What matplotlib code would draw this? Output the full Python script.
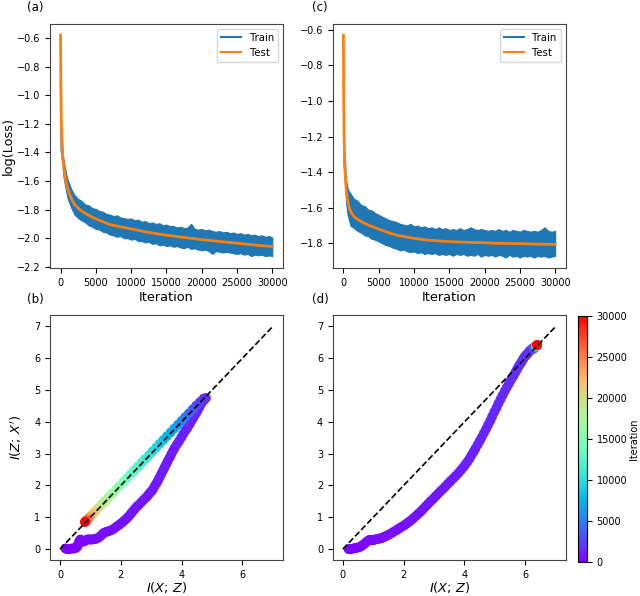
import numpy as np
import matplotlib.pyplot as plt
from matplotlib.lines import Line2D

# ---- loss curves ----
test_iter = [0, 50, 100, 200, 300, 400, 600, 800, 1000, 1500, 2000, 2500, 3000, 4000, 5000,
             6000, 7000, 8000, 10000, 12000, 14000, 16000, 18000, 20000, 22000, 24000,
             26000, 28000, 30000]
test_a = [-0.58, -0.95, -1.17, -1.33, -1.42, -1.48, -1.55, -1.61, -1.65, -1.72, -1.765, -1.79,
          -1.81, -1.84, -1.865, -1.885, -1.905, -1.915, -1.935, -1.955, -1.972, -1.985,
          -1.998, -2.01, -2.02, -2.03, -2.04, -2.05, -2.058]
test_c = [-0.63, -1.0, -1.2, -1.36, -1.44, -1.50, -1.56, -1.595, -1.62, -1.65, -1.665, -1.677,
          -1.688, -1.705, -1.72, -1.735, -1.748, -1.758, -1.772, -1.782, -1.788, -1.792,
          -1.795, -1.797, -1.80, -1.801, -1.803, -1.805, -1.806]

train_iter = [0, 100, 200, 300, 400, 600, 800, 1000,
              1500, 2000, 2500, 3000, 3500, 4000, 4500, 5000, 5500, 6000, 6500, 7000, 7500,
              8000, 8500, 9000, 9500, 10000, 10500, 11000, 11500, 12000, 12500, 13000, 13500,
              14000, 14500, 15000, 15500, 16000, 16500, 17000, 17500, 18000, 18500, 19000,
              19500, 20000, 20500, 21000, 21500, 22000, 22500, 23000, 23500, 24000, 24500,
              25000, 25500, 26000, 26500, 27000, 27500, 28000, 28500, 29000, 29500, 30000]
train_hi_a = [-1.12, -1.25, -1.30, -1.40, -1.44, -1.50, -1.55, -1.59,
              -1.655, -1.70, -1.725, -1.74, -1.765, -1.77, -1.79, -1.795, -1.81, -1.815,
              -1.83, -1.835, -1.845, -1.84, -1.855, -1.86, -1.865, -1.862, -1.875, -1.87,
              -1.885, -1.88, -1.895, -1.89, -1.90, -1.895, -1.91, -1.905, -1.915, -1.915,
              -1.925, -1.92, -1.93, -1.925, -1.90, -1.935, -1.94, -1.935, -1.945, -1.94,
              -1.95, -1.955, -1.95, -1.96, -1.955, -1.965, -1.96, -1.97, -1.965, -1.975,
              -1.97, -1.98, -1.975, -1.985, -1.98, -1.99, -1.985, -1.995]
train_lo_a = [-1.38, -1.42, -1.45, -1.50, -1.56, -1.62, -1.67, -1.72,
              -1.785, -1.835, -1.86, -1.875, -1.89, -1.91, -1.92, -1.935, -1.94, -1.955,
              -1.96, -1.975, -1.98, -1.99, -1.985, -2.0, -2.0, -2.01, -2.005, -2.02, -2.02,
              -2.03, -2.025, -2.04, -2.035, -2.05, -2.045, -2.055, -2.05, -2.06, -2.055,
              -2.065, -2.07, -2.06, -2.075, -2.07, -2.08, -2.085, -2.08, -2.09, -2.11,
              -2.09, -2.095, -2.10, -2.095, -2.10, -2.105, -2.11, -2.105, -2.115, -2.11,
              -2.125, -2.115, -2.12, -2.115, -2.125, -2.12, -2.125]
train_hi_c = [-1.15, -1.28, -1.33, -1.40, -1.45, -1.49, -1.51, -1.52,
              -1.55, -1.56, -1.585, -1.59, -1.61, -1.615, -1.63, -1.64, -1.65, -1.66,
              -1.67, -1.675, -1.68, -1.69, -1.695, -1.70, -1.69, -1.705, -1.70, -1.71,
              -1.705, -1.715, -1.71, -1.72, -1.71, -1.72, -1.715, -1.725, -1.72, -1.725,
              -1.715, -1.725, -1.72, -1.71, -1.72, -1.725, -1.72, -1.725, -1.73, -1.725,
              -1.73, -1.72, -1.73, -1.725, -1.735, -1.725, -1.73, -1.735, -1.725, -1.73,
              -1.735, -1.73, -1.735, -1.725, -1.71, -1.73, -1.735, -1.73]
train_lo_c = [-1.35, -1.40, -1.45, -1.52, -1.58, -1.64, -1.67, -1.70,
              -1.715, -1.73, -1.74, -1.755, -1.76, -1.775, -1.78, -1.79, -1.80, -1.81,
              -1.815, -1.825, -1.83, -1.84, -1.835, -1.845, -1.85, -1.845, -1.855, -1.85,
              -1.86, -1.855, -1.86, -1.855, -1.865, -1.86, -1.865, -1.86, -1.87, -1.86,
              -1.865, -1.86, -1.87, -1.865, -1.87, -1.86, -1.875, -1.865, -1.87, -1.865,
              -1.875, -1.865, -1.87, -1.88, -1.865, -1.875, -1.87, -1.88, -1.87, -1.875,
              -1.87, -1.88, -1.87, -1.875, -1.87, -1.88, -1.875, -1.87]

# ---- information plane trajectories ----
b_x_up = [0.18, 0.24, 0.3, 0.35, 0.4, 0.45, 0.5, 0.54, 0.57, 0.6,
          0.63, 0.67, 0.7, 0.72, 0.75, 0.78, 0.82, 0.86, 0.9, 0.95,
          1.0, 1.05, 1.1, 1.15, 1.2, 1.26, 1.32, 1.38, 1.43, 1.49,
          1.55, 1.62, 1.7, 1.77, 1.84, 1.91, 1.98, 2.05, 2.12, 2.19,
          2.25, 2.32, 2.38, 2.45, 2.52, 2.6, 2.68, 2.76, 2.85, 2.9,
          2.96, 3.02, 3.07, 3.12, 3.18, 3.23, 3.28, 3.33, 3.39, 3.44,
          3.5, 3.55, 3.61, 3.66, 3.72, 3.78, 3.85, 3.92, 3.99, 4.05,
          4.12, 4.19, 4.26, 4.31, 4.37, 4.42, 4.48, 4.53, 4.59, 4.64,
          4.7, 4.75, 4.8]
b_y_up = [0.02, 0.0, 0.0, 0.01, 0.02, 0.02, 0.03, 0.05, 0.08, 0.16,
          0.24, 0.3, 0.28, 0.26, 0.24, 0.24, 0.26, 0.28, 0.3, 0.31,
          0.3, 0.3, 0.31, 0.32, 0.33, 0.36, 0.4, 0.45, 0.5, 0.53,
          0.55, 0.57, 0.6, 0.64, 0.69, 0.74, 0.79, 0.84, 0.9, 0.96,
          1.02, 1.1, 1.17, 1.25, 1.33, 1.4, 1.48, 1.56, 1.64, 1.7,
          1.77, 1.83, 1.9, 1.99, 2.08, 2.17, 2.26, 2.36, 2.47, 2.57,
          2.68, 2.78, 2.88, 2.98, 3.09, 3.19, 3.3, 3.4, 3.51, 3.61,
          3.71, 3.81, 3.92, 4.01, 4.1, 4.19, 4.28, 4.37, 4.47, 4.56,
          4.65, 4.7, 4.75]
b_it_up = [0, 18, 36, 54, 72, 90, 108, 126, 144, 162,
           180, 198, 216, 234, 252, 270, 288, 306, 324, 342,
           360, 378, 396, 414, 432, 450, 468, 486, 504, 522,
           540, 558, 576, 594, 612, 630, 648, 666, 684, 702,
           720, 738, 756, 774, 792, 810, 828, 846, 864, 882,
           900, 918, 936, 954, 972, 990, 1008, 1026, 1044, 1062,
           1080, 1098, 1116, 1134, 1152, 1170, 1188, 1206, 1224, 1242,
           1260, 1278, 1296, 1314, 1332, 1350, 1368, 1386, 1404, 1422,
           1440, 1458, 1476]
b_x_back = [4.72, 4.6, 4.48, 4.36, 4.24, 4.12, 4.0, 3.88, 3.76, 3.64, 3.52, 3.4, 3.28, 3.16,
            3.04, 2.92, 2.8, 2.68, 2.56, 2.44, 2.32, 2.2, 2.08, 1.96, 1.84, 1.72, 1.6, 1.48,
            1.36, 1.25, 1.15, 1.06, 0.98, 0.92, 0.87, 0.84, 0.82]
b_y_back = [4.73, 4.62, 4.51, 4.39, 4.27, 4.15, 4.03, 3.91, 3.79, 3.67, 3.55, 3.43, 3.31,
            3.19, 3.07, 2.95, 2.83, 2.71, 2.59, 2.47, 2.35, 2.23, 2.11, 1.99, 1.87, 1.75,
            1.63, 1.51, 1.39, 1.28, 1.18, 1.09, 1.01, 0.95, 0.9, 0.87, 0.85]
b_it_back = [1600, 2200, 2800, 3400, 4000, 4600, 5200, 5800, 6400, 7000, 7600, 8200, 8800,
             9400, 10000, 10600, 11200, 11800, 12400, 13000, 13600, 14200, 14800, 15400,
             16000, 16600, 17200, 17900, 18700, 19600, 20600, 21800, 23200, 24700, 26300,
             28000, 30000]

d_x_up = [0.19, 0.25, 0.3, 0.35, 0.4, 0.45, 0.5, 0.56, 0.62, 0.67,
          0.73, 0.78, 0.84, 0.88, 0.92, 0.96, 1.0, 1.05, 1.1, 1.15,
          1.2, 1.24, 1.28, 1.33, 1.39, 1.44, 1.5, 1.56, 1.63, 1.7,
          1.77, 1.83, 1.9, 1.97, 2.04, 2.11, 2.18, 2.25, 2.32, 2.4,
          2.48, 2.56, 2.64, 2.72, 2.8, 2.88, 2.97, 3.05, 3.13, 3.21,
          3.3, 3.38, 3.46, 3.54, 3.63, 3.71, 3.8, 3.88, 3.96, 4.03,
          4.1, 4.17, 4.23, 4.3, 4.36, 4.43, 4.5, 4.57, 4.64, 4.71,
          4.78, 4.85, 4.91, 4.98, 5.05, 5.11, 5.18, 5.25, 5.32, 5.39,
          5.46, 5.53, 5.6, 5.66, 5.71, 5.76, 5.81, 5.86, 5.9, 5.94,
          5.98, 6.02, 6.06, 6.1, 6.14, 6.18, 6.22, 6.26, 6.3]
d_y_up = [0.0, 0.0, 0.01, 0.02, 0.03, 0.04, 0.05, 0.07, 0.1, 0.14,
          0.18, 0.23, 0.27, 0.29, 0.29, 0.28, 0.28, 0.3, 0.31, 0.32,
          0.33, 0.34, 0.35, 0.37, 0.4, 0.42, 0.45, 0.48, 0.52, 0.56,
          0.6, 0.64, 0.68, 0.72, 0.76, 0.81, 0.86, 0.91, 0.97, 1.04,
          1.11, 1.18, 1.26, 1.34, 1.42, 1.5, 1.58, 1.66, 1.74, 1.82,
          1.9, 1.98, 2.06, 2.14, 2.22, 2.3, 2.39, 2.48, 2.57, 2.66,
          2.75, 2.85, 2.95, 3.06, 3.16, 3.28, 3.4, 3.52, 3.65, 3.78,
          3.91, 4.04, 4.17, 4.31, 4.44, 4.57, 4.7, 4.83, 4.96, 5.08,
          5.2, 5.32, 5.43, 5.53, 5.62, 5.71, 5.79, 5.86, 5.92, 5.99,
          6.05, 6.09, 6.13, 6.18, 6.22, 6.26, 6.29, 6.32, 6.34]
d_it_up = [0, 20, 40, 60, 80, 100, 120, 140, 160, 180,
           200, 220, 240, 260, 280, 300, 320, 340, 360, 380,
           400, 420, 440, 460, 480, 500, 520, 540, 560, 580,
           600, 620, 640, 660, 680, 700, 720, 740, 760, 780,
           800, 820, 840, 860, 880, 900, 920, 940, 960, 980,
           1000, 1020, 1040, 1060, 1080, 1100, 1120, 1140, 1160, 1180,
           1200, 1220, 1240, 1260, 1280, 1300, 1320, 1340, 1360, 1380,
           1400, 1420, 1440, 1460, 1480, 1500, 1520, 1540, 1560, 1580,
           1600, 1620, 1640, 1660, 1680, 1700, 1720, 1740, 1760, 1780,
           1800, 1820, 1840, 1860, 1880, 1900, 1920, 1940, 1960]
d_x_end = [6.27, 6.32, 6.33, 6.35, 6.36, 6.37, 6.38, 6.37, 6.38, 6.39, 6.38, 6.39]
d_y_end = [6.3, 6.33, 6.36, 6.37, 6.38, 6.39, 6.4, 6.41, 6.4, 6.41, 6.41, 6.42]
d_it_end = [3000, 4500, 6000, 8000, 10000, 13000, 16000, 19000, 22000, 25000, 28000, 30000]

diag = [0, 7]

plt.rcParams['font.family'] = 'DejaVu Sans'
tick_fs = 7
label_fs = 9.3

fig = plt.figure(figsize=(6.4, 5.96), dpi=100)
ax_a = fig.add_axes([0.078, 0.550, 0.364, 0.410])
ax_c = fig.add_axes([0.520, 0.550, 0.364, 0.410])
ax_b = fig.add_axes([0.078, 0.060, 0.364, 0.411])
ax_d = fig.add_axes([0.520, 0.060, 0.364, 0.411])
cax = fig.add_axes([0.903, 0.057, 0.014, 0.413])

# loss panels
for ax, hi, lo, test, ylim, yt in [
        (ax_a, train_hi_a, train_lo_a, test_a, (-2.21, -0.50), np.arange(-2.2, -0.55, 0.2)),
        (ax_c, train_hi_c, train_lo_c, test_c, (-1.94, -0.566), np.arange(-1.8, -0.55, 0.2))]:
    ax.fill_between(train_iter, lo, hi, color='#1f77b4', edgecolor='#1f77b4', lw=0.8)
    ax.plot(test_iter, test, color='#ff7f0e', lw=2.0)
    ax.set_xlim(-1500, 31500)
    ax.set_ylim(*ylim)
    ax.set_yticks(yt)
    ax.set_xticks([0, 5000, 10000, 15000, 20000, 25000, 30000])
    ax.tick_params(labelsize=tick_fs)
    ax.set_xlabel('Iteration', fontsize=label_fs, labelpad=2)
    handles = [Line2D([], [], color='#1f77b4', lw=1.5), Line2D([], [], color='#ff7f0e', lw=1.5)]
    ax.legend(handles, ['Train', 'Test'], loc='upper right', fontsize=7.3)
ax_a.set_ylabel('log(Loss)', fontsize=label_fs, labelpad=1)

# information plane panels
sc = None
for ax, xs, ys, its in [
        (ax_b, [b_x_up, b_x_back], [b_y_up, b_y_back], [b_it_up, b_it_back]),
        (ax_d, [d_x_up, d_x_end], [d_y_up, d_y_end], [d_it_up, d_it_end])]:
    sc = ax.scatter(np.concatenate(xs), np.concatenate(ys), c=np.concatenate(its),
                    cmap='rainbow', vmin=0, vmax=30000, s=50, linewidths=0)
    ax.plot(diag, diag, 'k--', lw=1.2)
    ax.set_xlim(-0.33, 7.33)
    ax.set_ylim(-0.35, 7.35)
    ax.set_xticks([0, 2, 4, 6])
    ax.set_yticks(range(8))
    ax.tick_params(labelsize=tick_fs)
    ax.set_xlabel(r'$I(X;\,Z)$', fontsize=label_fs, labelpad=0)
ax_b.set_ylabel(r"$I(Z;\,X')$", fontsize=label_fs, labelpad=7)

cb = fig.colorbar(sc, cax=cax)
cb.set_ticks([0, 5000, 10000, 15000, 20000, 25000, 30000])
cb.ax.tick_params(labelsize=tick_fs)
cb.set_label('Iteration', fontsize=7, labelpad=1)
cb.outline.set_linewidth(0.8)

for ax in [ax_a, ax_b, ax_c, ax_d]:
    for sp in ax.spines.values():
        sp.set_color('#444444')

fig.text(0.055, 0.988, '(a)', fontsize=8.5, ha='center', va='center')
fig.text(0.055, 0.497, '(b)', fontsize=8.5, ha='center', va='center')
fig.text(0.5, 0.988, '(c)', fontsize=8.5, ha='center', va='center')
fig.text(0.5, 0.497, '(d)', fontsize=8.5, ha='center', va='center')

fig.savefig('out.png', dpi=100)
